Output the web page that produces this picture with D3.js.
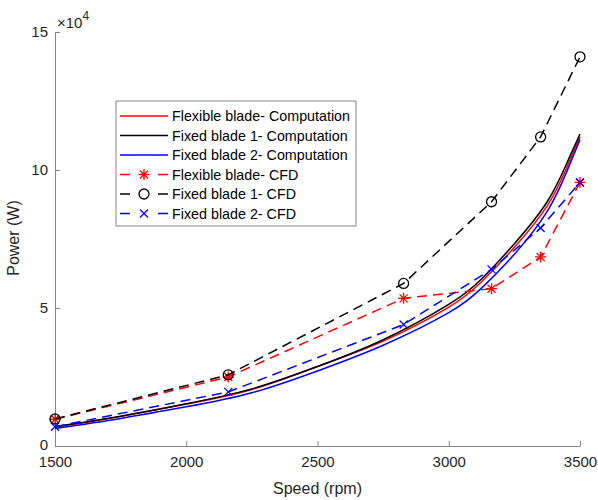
<!DOCTYPE html>
<html>
<head>
<meta charset="utf-8">
<script src="https://cdn.jsdelivr.net/npm/d3@7"></script>
<style>
  body { margin: 0; background: #fff; }
  text { font-family: "Liberation Sans", Arial, sans-serif; }
</style>
</head>
<body>
<div class="chart"></div>
<script>
// data (power in W, speed in rpm)
var compSpeed = [1500, 1750, 2000, 2250, 2500, 2750, 3000, 3125, 3250, 3375, 3450, 3500];
var flexComp  = [6800, 10700, 15200, 20500, 28800, 38000, 50300, 59500, 72000, 87000, 101000, 112000];
var fixed1Comp = [7000, 10800, 15300, 20700, 28800, 38500, 51300, 60500, 73300, 88500, 102500, 113000];
var fixed2Comp = [6300, 10000, 14200, 19300, 27200, 36500, 48300, 57200, 69500, 85000, 99500, 111000];

var cfdSpeed = [1500, 2160, 2828, 3163, 3350, 3500];
var flexCFD   = [9700, 25000, 53500, 57000, 68500, 95500];
var fixed1CFD = [9800, 25800, 58900, 88500, 112000, 141000];
var fixed2CFD = [7000, 19600, 44000, 64000, 79000, 95500];

var xTicks = [1500, 2000, 2500, 3000, 3500];
var yTicks = [0, 50000, 100000, 150000];

var seriesNames = ["Flexible blade- Computation", "Fixed blade 1- Computation", "Fixed blade 2- Computation",
                   "Flexible blade- CFD", "Fixed blade 1- CFD", "Fixed blade 2- CFD"];

// graph
var W = 598, H = 500,
    margin = {top: 32, right: 18, bottom: 54, left: 55},
    width = W - margin.left - margin.right,
    height = H - margin.top - margin.bottom;

var svg = d3.select(".chart").append("svg")
    .attr("width", W)
    .attr("height", H)
  .append("g")
    .attr("transform", "translate(" + margin.left + "," + margin.top + ")");

var x = d3.scaleLinear().domain([1500, 3500]).range([0, width]);
var y = d3.scaleLinear().domain([0, 150000]).range([height, 0]);

var axisCol = "#858585", textCol = "#262626";

// axes (MATLAB style: inward ticks, no box)
var xAxis = svg.append("g")
    .attr("transform", "translate(0," + height + ")")
    .call(d3.axisBottom(x).tickValues(xTicks).tickFormat(d3.format("d")).tickSizeInner(-5).tickSizeOuter(0).tickPadding(10));
var yAxis = svg.append("g")
    .call(d3.axisLeft(y).tickValues(yTicks).tickFormat(d => d / 10000).tickSizeInner(-5).tickSizeOuter(0).tickPadding(7));

[xAxis, yAxis].forEach(function(a) {
  a.select(".domain").attr("stroke", axisCol);
  a.selectAll(".tick line").attr("stroke", axisCol);
  a.selectAll(".tick text").attr("fill", textCol)
    .style("font-size", "15px").style("font-family", "'Liberation Sans', Arial, sans-serif");
});
yAxis.selectAll(".tick text").filter(d => d == 0).attr("dy", "0.2em");

// exponent
var expo = svg.append("text")
    .attr("x", 2).attr("y", -4)
    .attr("fill", textCol)
    .style("font-size", "15px");
expo.append("tspan").text("\u00d710");
expo.append("tspan").attr("dy", -8).style("font-size", "12px").text("4");

// axis labels
svg.append("text")
    .attr("x", width / 2).attr("y", height + 48)
    .attr("text-anchor", "middle")
    .attr("fill", textCol)
    .style("font-size", "16px")
    .text("Speed (rpm)");
svg.append("text")
    .attr("transform", "translate(" + (-36) + "," + (238 - margin.top) + ") rotate(-90)")
    .attr("text-anchor", "middle")
    .attr("fill", textCol)
    .style("font-size", "16px")
    .text("Power (W)");

var line = d3.line()
    .x(d => x(d[0]))
    .y(d => y(d[1]));
var smooth = d3.line()
    .x(d => x(d[0]))
    .y(d => y(d[1]))
    .curve(d3.curveNatural);

var comp = [
  {vals: flexComp, col: "#ff0000"},
  {vals: fixed1Comp, col: "#000000"},
  {vals: fixed2Comp, col: "#0000ff"}
];
var cfd = [
  {vals: flexCFD, col: "#ff0000", marker: "star"},
  {vals: fixed1CFD, col: "#000000", marker: "circle"},
  {vals: fixed2CFD, col: "#0000ff", marker: "cross"}
];

comp.forEach(function(s) {
  svg.append("path")
    .datum(compSpeed.map((v, i) => [v, s.vals[i]]))
    .attr("d", smooth)
    .attr("fill", "none")
    .attr("stroke", s.col)
    .attr("stroke-width", 1.5);
});

function drawMarker(g, type, col) {
  if (type == "circle") {
    g.append("circle").attr("r", 5).attr("fill", "none").attr("stroke", col).attr("stroke-width", 1.3);
  } else if (type == "cross") {
    g.append("path").attr("d", "M-4,-4L4,4M-4,4L4,-4").attr("stroke", col).attr("stroke-width", 1.3);
  } else {
    g.append("path").attr("d", "M-4,-4L4,4M-4,4L4,-4M0,-5.5L0,5.5M-5.5,0L5.5,0").attr("stroke", col).attr("stroke-width", 1.3);
  }
}

cfd.forEach(function(s) {
  var pts = cfdSpeed.map((v, i) => [v, s.vals[i]]);
  svg.append("path")
    .datum(pts)
    .attr("d", line)
    .attr("fill", "none")
    .attr("stroke", s.col)
    .attr("stroke-width", 1.5)
    .attr("stroke-dasharray", "10,6");
  svg.selectAll(null)
    .data(pts)
    .enter().append("g")
      .attr("transform", d => "translate(" + x(d[0]) + "," + y(d[1]) + ")")
      .each(function() { drawMarker(d3.select(this), s.marker, s.col); });
});

// legend
var legend = svg.append("g").attr("transform", "translate(" + (116 - margin.left) + "," + (101 - margin.top) + ")");
legend.append("rect")
    .attr("width", 240).attr("height", 125)
    .attr("fill", "#fff")
    .attr("stroke", axisCol)
    .attr("stroke-width", 1);

var legItems = comp.concat(cfd);
legItems.forEach(function(s, i) {
  var row = legend.append("g").attr("transform", "translate(0," + (15 + i * 19.5) + ")");
  if (s.marker) {
    row.append("line").attr("x1", 4).attr("x2", 14).attr("stroke", s.col).attr("stroke-width", 1.5);
    row.append("line").attr("x1", 42).attr("x2", 52).attr("stroke", s.col).attr("stroke-width", 1.5);
    var m = row.append("g").attr("transform", "translate(28,0)");
    drawMarker(m, s.marker, s.col);
  } else {
    row.append("line").attr("x1", 4).attr("x2", 52).attr("stroke", s.col).attr("stroke-width", 1.5);
  }
  row.append("text")
    .attr("x", 56).attr("y", 5)
    .attr("fill", "#000")
    .style("font-size", "14.3px")
    .text(seriesNames[i]);
});
</script>
</body>
</html>
